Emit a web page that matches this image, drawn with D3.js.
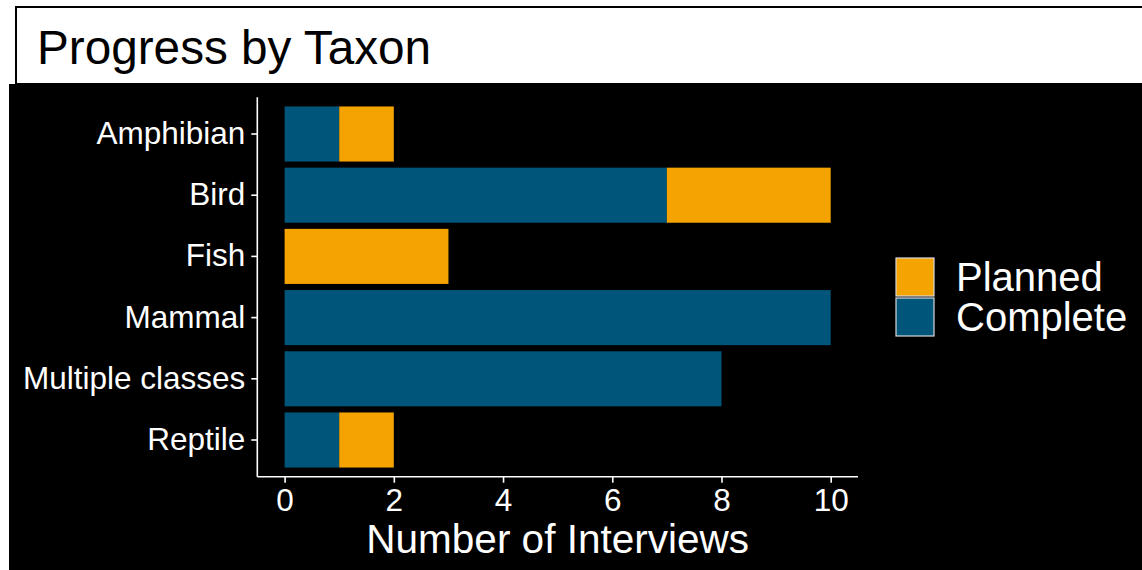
<!DOCTYPE html>
<html>
<head>
<meta charset="utf-8">
<script src="https://cdn.jsdelivr.net/npm/d3@7"></script>
<style>
  body { margin: 0; background: #fff; }
  svg { display: block; font-family: "Liberation Sans", Arial, Helvetica, sans-serif; }
</style>
</head>
<body>
<svg id="chart"></svg>
<script>
// *********************************************
// DATA
// *********************************************
var taxa = ["Amphibian", "Bird", "Fish", "Mammal", "Multiple classes", "Reptile"];
var complete = [1, 7, 0, 10, 8, 1];
var planned = [1, 3, 3, 0, 0, 1];
var statuses = ["Complete", "Planned"];
var legendOrder = ["Planned", "Complete"];
var xTicks = [0, 2, 4, 6, 8, 10];

// *********************************************
// SETUP
// *********************************************
var width = 1142,
    height = 570;

var svg = d3.select("#chart")
    .attr("width", width)
    .attr("height", height);

var colors = d3.scaleOrdinal()
    .domain(statuses)
    .range(["#00557a", "#f5a300"]);

// black plot background + white title strip
svg.append("rect")
    .attr("x", 9).attr("y", 84)
    .attr("width", width - 9).attr("height", height - 84)
    .attr("fill", "#000");

svg.append("rect")
    .attr("x", 16).attr("y", 7)
    .attr("width", width + 10).attr("height", 77)
    .attr("fill", "#fff")
    .attr("stroke", "#000")
    .attr("stroke-width", 2);

svg.append("text")
    .attr("x", 37).attr("y", 64)
    .attr("font-size", 47.7)
    .attr("fill", "#000")
    .text("Progress by Taxon");

// scales
var x = d3.scaleLinear()
    .domain([-0.5, 10.5])
    .range([257.3, 858]);

var y = d3.scaleBand()
    .domain(taxa)
    .range([103.4, 470.6])
    .paddingInner(0.1)
    .paddingOuter(0.05);

// *********************************************
// BARS
// *********************************************
var rows = taxa.map((t, i) => ({taxon: t, Complete: complete[i], Planned: planned[i]}));
var series = d3.stack().keys(statuses)(rows);

svg.append("g")
  .selectAll("g")
  .data(series)
  .enter().append("g")
    .attr("fill", d => colors(d.key))
  .selectAll("rect")
  .data(d => d.filter(p => p[1] > p[0]))
  .enter().append("rect")
    .attr("x", d => x(d[0]))
    .attr("width", d => x(d[1]) - x(d[0]))
    .attr("y", d => y(d.data.taxon))
    .attr("height", y.bandwidth());

// *********************************************
// AXES
// *********************************************
var step = y.step();
var yTop = y(taxa[0]) + y.bandwidth() / 2 - 0.6 * step;
var yBot = y(taxa[taxa.length - 1]) + y.bandwidth() / 2 + 0.6 * step;

var xAxis = svg.append("g")
    .attr("transform", "translate(0," + yBot + ")")
    .call(d3.axisBottom(x).tickValues(xTicks).tickSize(6).tickSizeOuter(0).tickPadding(6));

var yAxis = svg.append("g")
    .attr("transform", "translate(" + x.range()[0] + ",0)")
    .call(d3.axisLeft(y).tickSize(6).tickSizeOuter(0).tickPadding(6));

yAxis.select(".domain").attr("d", "M0," + yTop + "V" + yBot);
xAxis.select(".domain").attr("d", "M" + x.range()[0] + ",0H" + x.range()[1]);

[xAxis, yAxis].forEach(function(a) {
  a.attr("font-family", null).attr("font-size", 31.5);
  a.selectAll("path, line").attr("stroke", "#fff").attr("stroke-width", 1.6);
  a.selectAll("text").attr("fill", "#fff");
});

svg.append("text")
    .attr("x", (x.range()[0] + x.range()[1]) / 2)
    .attr("y", 553)
    .attr("text-anchor", "middle")
    .attr("font-size", 40.5)
    .attr("fill", "#fff")
    .text("Number of Interviews");

// *********************************************
// LEGEND
// *********************************************
var legend = svg.append("g")
    .attr("transform", "translate(896,258)");

var key = legend.selectAll("g")
    .data(legendOrder)
    .enter().append("g")
    .attr("transform", (d, i) => "translate(0," + i * 40 + ")");

key.append("rect")
    .attr("width", 38).attr("height", 38)
    .attr("fill", d => colors(d))
    .attr("stroke", "#d9d9d9")
    .attr("stroke-width", 1.2);

key.append("text")
    .attr("x", 60).attr("y", 33)
    .attr("font-size", 40)
    .attr("fill", "#fff")
    .text(d => d);
</script>
</body>
</html>
